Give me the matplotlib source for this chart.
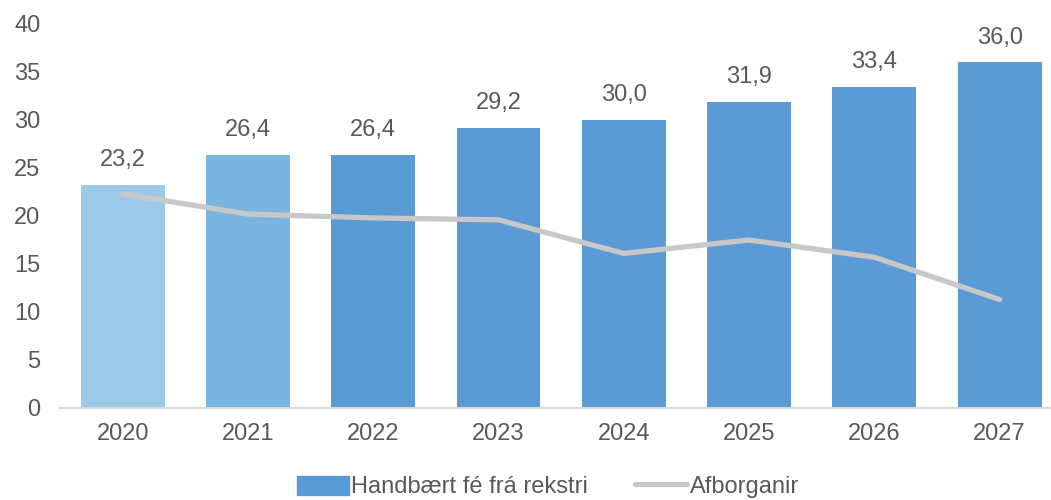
import numpy as np
import matplotlib.pyplot as plt
from matplotlib.patches import Patch
from matplotlib.lines import Line2D

plt.rcParams['font.family'] = ['Liberation Sans', 'DejaVu Sans']

years = ['2020', '2021', '2022', '2023', '2024', '2025', '2026', '2027']
handbaert = [23.2, 26.4, 26.4, 29.2, 30.0, 31.9, 33.4, 36.0]
afborganir = [22.3, 20.2, 19.8, 19.6, 16.1, 17.5, 15.7, 11.3]

bar_colors = ['#9DC9E8', '#78B5E1'] + ['#5B9BD5'] * 6
text_color = '#595959'
fs = 17

fig = plt.figure(figsize=(10.51, 5), dpi=100)
ax = fig.add_axes([60 / 1051, 92 / 500, 991 / 1051, 384 / 500])

x = np.arange(len(years))
ax.bar(x, handbaert, width=0.67, color=bar_colors, zorder=2)
ax.plot(x, afborganir, color='#C8C8C8', lw=3.8, solid_capstyle='round',
        solid_joinstyle='round', zorder=3)

for xi, v in zip(x, handbaert):
    ax.annotate(f'{v:.1f}'.replace('.', ','), (xi, v), xytext=(0, 10),
                textcoords='offset points', ha='center', va='bottom',
                fontsize=fs, color=text_color)

ax.set_xlim(-0.5, 7.41)
ax.set_ylim(0, 40)
ax.set_yticks(range(0, 41, 5))
ax.set_xticks(x)
ax.set_xticklabels(years)
ax.tick_params(axis='both', length=0, labelsize=fs, labelcolor=text_color)
ax.tick_params(axis='x', pad=11)
ax.tick_params(axis='y', pad=14)
for s in ['top', 'right', 'left']:
    ax.spines[s].set_visible(False)
ax.spines['bottom'].set_color('#D9D9D9')
ax.spines['bottom'].set_linewidth(1.5)

handles = [Patch(color='#5B9BD5', label='Handbært fé frá rekstri'),
           Line2D([], [], color='#C8C8C8', lw=3.8, solid_capstyle='round',
                  label='Afborganir')]
fig.legend(handles=handles, loc='center', bbox_to_anchor=(548 / 1051, 13 / 500),
           ncol=2, frameon=False, fontsize=fs, labelcolor=text_color,
           handlelength=2.2, handletextpad=0.1, columnspacing=2.0,
           handleheight=0.85)

fig.savefig('out.png', dpi=100)
